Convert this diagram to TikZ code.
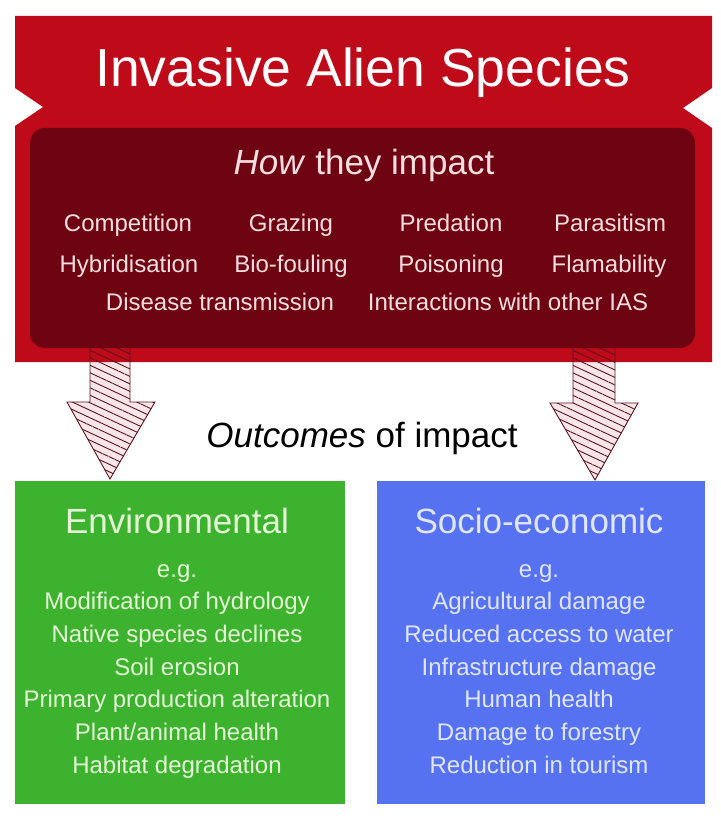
\documentclass[tikz,border=0pt]{standalone}
\usepackage{fontspec}
\setmainfont{Liberation Sans}
\usepackage{xcolor}
\usepackage{tikz}
\usetikzlibrary{patterns.meta, positioning}

\definecolor{iasred}{RGB}{190,10,25}
\definecolor{iasdark}{RGB}{110,4,18}
\definecolor{envgreen}{RGB}{60,178,46}
\definecolor{socblue}{RGB}{86,114,240}
\definecolor{pinktext}{RGB}{246,222,224}
\definecolor{greentext}{RGB}{228,246,214}
\definecolor{bluetext}{RGB}{224,230,255}
\definecolor{hatchred}{RGB}{90,20,30}

\begin{document}
\begin{tikzpicture}[
        x=1pt, y=-1pt,
        title/.style={
            text=white,
            font=\fontsize{53.5}{60}\selectfont,
            anchor=base
        },
        heading/.style={
            font=\fontsize{35}{40}\selectfont,
            anchor=base
        },
        item/.style={
            text=pinktext,
            font=\fontsize{24}{28}\selectfont,
            anchor=base
        },
        boxitem/.style={
            font=\fontsize{24}{28}\selectfont,
            anchor=base
        },
        outbox/.style={
            rectangle,
            minimum height=323pt,
            inner sep=0pt
        },
        blockarrow/.style={
            draw=hatchred,
            line width=0.9pt,
            line join=miter,
            preaction={fill=iasred, fill opacity=0.1},
            pattern={Lines[angle=-25, distance=6.8pt, line width=0.9pt]},
            pattern color=hatchred
        }
    ]
        \useasboundingbox (0,0) rectangle (720,826);

        % Banner
        \fill[iasred] (15,16) -- (712,16) -- (712,88) -- (683,108) -- (712,128)
            -- (712,362) -- (15,362) -- (15,126) -- (43,107) -- (15,88) -- cycle;
        \node[title] (ias) at (363,87) {Invasive Alien Species};

        % Arrows
        \draw[blockarrow] (90,340) -- (90,402) -- (67,402) -- (110,479)
            -- (155,402) -- (130,402) -- (130,340) -- cycle;
        \draw[blockarrow] (573,340) -- (573,403) -- (550,403) -- (595,480)
            -- (638,403) -- (615,403) -- (615,340) -- cycle;

        % How they impact
        \node[rectangle, rounded corners=15pt, fill=iasdark, minimum width=665pt,
            minimum height=220pt] (how) at (362.5,238) {};
        \node[heading, text=pinktext] (howtitle) at (364,175) {\textit{How} they impact};

        \node[item] (competition) at (128,232) {Competition};
        \node[item] (grazing) at (291,232) {Grazing};
        \node[item] (predation) at (451,232) {Predation};
        \node[item] (parasitism) at (610,232) {Parasitism};
        \node[item] (hybrid) at (129,272) {Hybridisation};
        \node[item] (biofouling) at (291,272) {Bio-fouling};
        \node[item] (poisoning) at (451,272) {Poisoning};
        \node[item] (flamability) at (609,272) {Flamability};
        \node[item] (disease) at (220,310) {Disease transmission};
        \node[item] (interact) at (508,310) {Interactions with other IAS};

        % Outcomes
        \node[heading] (outcomes) at (362,447) {\textit{Outcomes} of impact};

        \node[outbox, fill=envgreen, minimum width=330pt] (env) at (180,642.5) {};
        \node[outbox, fill=socblue, minimum width=328pt] (soc) at (541,642) {};

        \node[heading, text=greentext] (envtitle) at (177,533) {Environmental};
        \foreach \txt [count=\i from 0] in {e.g., Modification of hydrology,
            Native species declines, Soil erosion, Primary production alteration,
            Plant/animal health, Habitat degradation}
            \node[boxitem, text=greentext] (env\i) at (177,577+32.7*\i) {\txt};

        \node[heading, text=bluetext] (soctitle) at (539,533) {Socio-economic};
        \foreach \txt [count=\i from 0] in {e.g., Agricultural damage,
            Reduced access to water, Infrastructure damage, Human health,
            Damage to forestry, Reduction in tourism}
            \node[boxitem, text=bluetext] (soc\i) at (539,577+32.7*\i) {\txt};
    \end{tikzpicture}
\end{document}
